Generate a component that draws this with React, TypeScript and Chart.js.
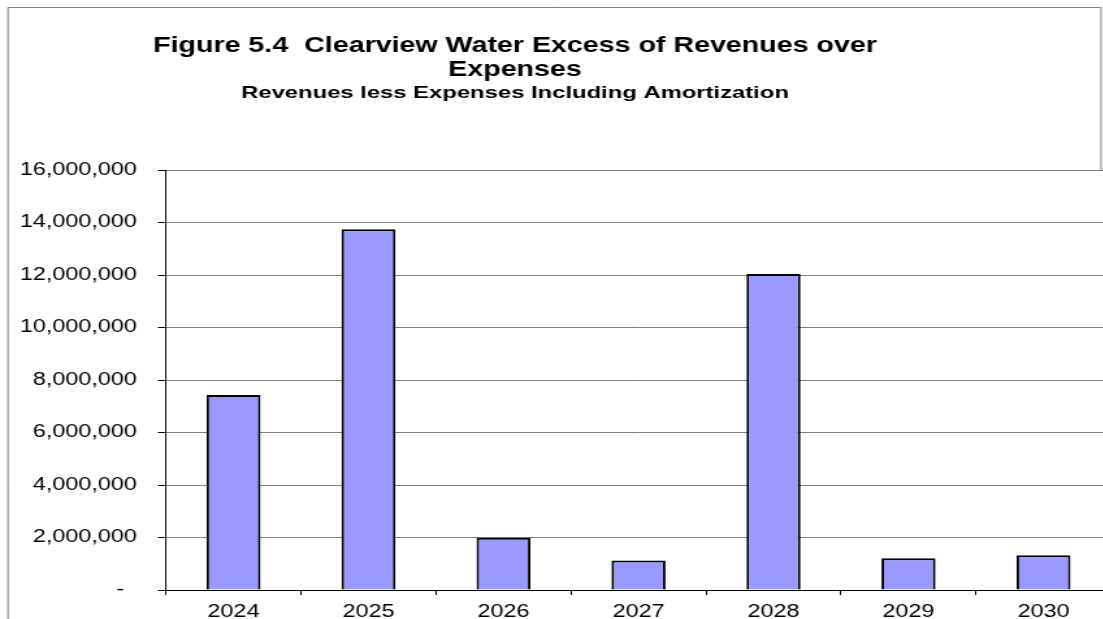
import React, { useEffect, useRef } from 'react';
import { Chart, registerables } from 'chart.js';

Chart.register(...registerables);

// ---- data ----
const categories: string[] = ['2024', '2025', '2026', '2027', '2028', '2029', '2030'];
const excessValues: number[] = [7430000, 13740000, 1990000, 1120000, 12040000, 1210000, 1320000];
const yMin = 0;
const yMax = 16000000;
const yStep = 2000000;
const titleLines: string[] = ['Figure 5.4  Clearview Water Excess of Revenues over', 'Expenses'];
const subtitleText = 'Revenues less Expenses Including Amortization';

// ---- layout (canvas is stretched horizontally like the source picture) ----
const SX = 1.3;
const CW = 870;
const CH = 619;
const FONT = "'Liberation Sans', Arial, sans-serif";

function fmt(v: number): string {
  if (v === 0) return '-  ';
  return String(Math.round(v)).replace(/\B(?=(\d{3})+(?!\d))/g, ',');
}

const framePlugin = {
  id: 'frameAndTitle',
  beforeDraw(chart: any) {
    const ctx = chart.ctx;
    ctx.save();
    ctx.fillStyle = '#ffffff';
    ctx.fillRect(0, 0, chart.width, chart.height);
    ctx.strokeStyle = '#808080';
    ctx.lineWidth = 1;
    const l = 8 / SX;
    const r = 1101 / SX;
    ctx.beginPath();
    ctx.moveTo(l, CH);
    ctx.lineTo(l, 7.5);
    ctx.lineTo(r, 7.5);
    ctx.lineTo(r, 170);
    ctx.stroke();

    const cx = 515 / SX;
    ctx.fillStyle = '#000000';
    ctx.textAlign = 'center';
    ctx.textBaseline = 'middle';
    ctx.font = `bold 22px ${FONT}`;
    ctx.fillText(titleLines[0], cx, 46);
    ctx.fillText(titleLines[1], cx, 70);

    ctx.translate(cx, 93);
    ctx.scale(1.11, 1);
    ctx.font = `bold 16.5px ${FONT}`;
    ctx.fillText(subtitleText, 0, 0);
    ctx.restore();
  },
};

export default function App() {
  const ref = useRef<HTMLCanvasElement | null>(null);

  useEffect(() => {
    if (!ref.current) return;
    const plotLeft = 166 / SX;
    const catW = 135 / SX;
    const plotRight = plotLeft + catW * categories.length;
    const chart = new Chart(ref.current, {
      type: 'bar',
      data: {
        labels: categories,
        datasets: [
          {
            label: 'Excess of Revenues over Expenses',
            data: excessValues,
            backgroundColor: '#9999FF',
            borderColor: '#000000',
            borderWidth: 2,
            barPercentage: 0.4,
            categoryPercentage: 1,
          },
        ],
      },
      options: {
        responsive: false,
        animation: false,
        devicePixelRatio: 1,
        layout: { padding: { top: 170, left: 0, bottom: 0, right: CW - plotRight } },
        plugins: {
          legend: { display: false },
          tooltip: { enabled: false },
          title: { display: false },
        },
        scales: {
          x: {
            type: 'category',
            offset: true,
            grid: {
              offset: true,
              drawOnChartArea: false,
              drawTicks: true,
              tickLength: 5,
              tickColor: '#000000',
            },
            border: { display: true, color: '#000000', width: 1 },
            ticks: {
              color: '#000000',
              font: { family: FONT, size: 18 },
              padding: 6,
              maxRotation: 0,
              autoSkip: false,
            },
            afterFit: (scale: any) => {
              scale.height = CH - 590;
            },
          },
          y: {
            min: yMin,
            max: yMax,
            grid: {
              color: (c: any) => (c.tick && c.tick.value === 0 ? '#000000' : '#808080'),
              tickColor: '#000000',
              tickLength: 8 / SX,
              lineWidth: 1,
            },
            border: { display: true, color: '#000000', width: 1 },
            ticks: {
              stepSize: yStep,
              color: '#000000',
              font: { family: FONT, size: 18 },
              padding: plotLeft - 8 / SX - 137 / SX,
              callback: (v: any) => fmt(Number(v)),
            },
            afterFit: (scale: any) => {
              scale.width = plotLeft;
            },
          },
        },
      },
      plugins: [framePlugin],
    });
    return () => chart.destroy();
  }, []);

  return (
    <div
      style={{
        position: 'fixed',
        left: 0,
        top: 0,
        width: 1103,
        height: 619,
        overflow: 'hidden',
        background: '#ffffff',
      }}
    >
      <canvas
        ref={ref}
        width={CW}
        height={CH}
        style={{ width: CW * SX, height: CH, display: 'block' }}
      />
    </div>
  );
}
